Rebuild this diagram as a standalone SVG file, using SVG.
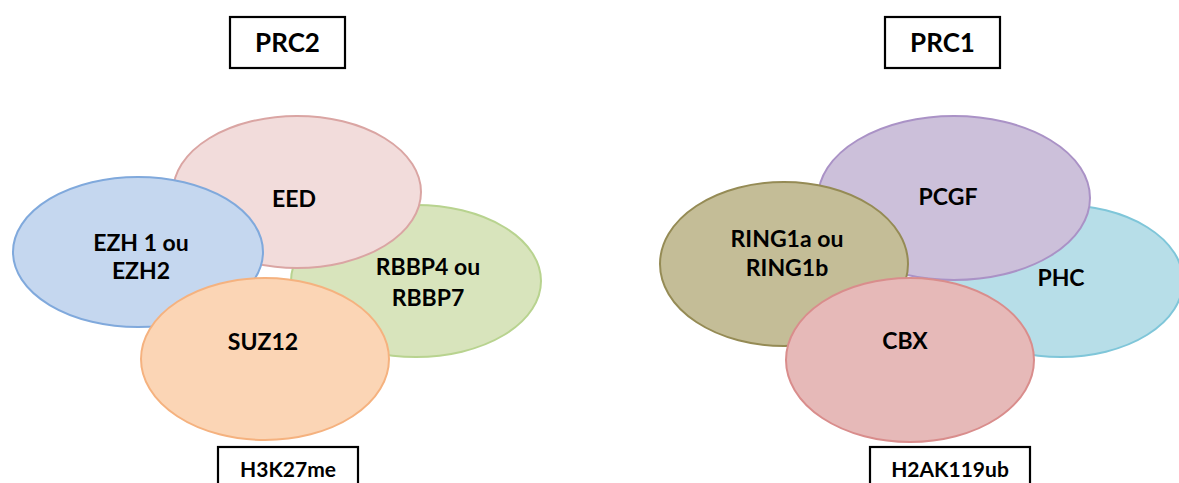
<svg xmlns="http://www.w3.org/2000/svg" width="1179" height="483" viewBox="0 0 1179 483">
  <style>
    text { font-family: Lato, "Open Sans", "Liberation Sans", sans-serif; font-weight: bold; fill: #000; text-anchor: middle; }
    .lbl { font-size: 23px; }
    .title { font-size: 26px; }
    .mark { font-size: 21px; }
    .box { fill: #fff; stroke: #000; stroke-width: 2.2; }
    ellipse { stroke-width: 2; }
  </style>
  <rect width="1179" height="483" fill="#fff"/>

  <!-- PRC2 complex -->
  <g id="prc2-title">
    <rect class="box" x="230" y="17" width="115" height="51"/>
    <text class="title" x="287.5" y="52">PRC2</text>
  </g>
  <g id="rbbp">
    <ellipse cx="416" cy="281" rx="125" ry="76" fill="#d8e4bc" stroke="#b8d38f"/>
    <text class="lbl" x="428" y="275">RBBP4 ou</text>
    <text class="lbl" x="428" y="306">RBBP7</text>
  </g>
  <g id="eed">
    <ellipse cx="297" cy="192" rx="124" ry="76" fill="#f2dcdb" stroke="#daa5a3"/>
    <text class="lbl" x="294" y="207">EED</text>
  </g>
  <g id="ezh">
    <ellipse cx="138" cy="252" rx="125" ry="75" fill="#c5d7ef" stroke="#80a9dc"/>
    <text class="lbl" x="141" y="251">EZH 1 ou</text>
    <text class="lbl" x="141" y="279">EZH2</text>
  </g>
  <g id="suz12">
    <ellipse cx="265" cy="359" rx="124" ry="81" fill="#fbd5b5" stroke="#f5b27f"/>
    <text class="lbl" x="263" y="350">SUZ12</text>
  </g>
  <g id="h3k27me">
    <rect class="box" x="218" y="447" width="140" height="46"/>
    <text class="mark" x="288" y="477">H3K27me</text>
  </g>

  <!-- PRC1 complex -->
  <g id="prc1-title">
    <rect class="box" x="885" y="17" width="115" height="51"/>
    <text class="title" x="942.5" y="52">PRC1</text>
  </g>
  <g id="phc">
    <ellipse cx="1061" cy="281" rx="122" ry="76" fill="#b7dee8" stroke="#7fc6d9"/>
    <text class="lbl" x="1061" y="286">PHC</text>
  </g>
  <g id="pcgf">
    <ellipse cx="954" cy="198" rx="136" ry="82" fill="#ccc0da" stroke="#aa92c6"/>
    <text class="lbl" x="948" y="205">PCGF</text>
  </g>
  <g id="ring">
    <ellipse cx="784" cy="264" rx="124" ry="82" fill="#c4bd97" stroke="#958b55"/>
    <text class="lbl" x="787" y="247">RING1a ou</text>
    <text class="lbl" x="787" y="276">RING1b</text>
  </g>
  <g id="cbx">
    <ellipse cx="910" cy="360" rx="124" ry="82" fill="#e6b9b8" stroke="#d98d8c"/>
    <text class="lbl" x="905" y="349">CBX</text>
  </g>
  <g id="h2ak119ub">
    <rect class="box" x="870" y="447" width="160" height="46"/>
    <text class="mark" x="950" y="477">H2AK119ub</text>
  </g>

  <g id="connectors"/>
</svg>
